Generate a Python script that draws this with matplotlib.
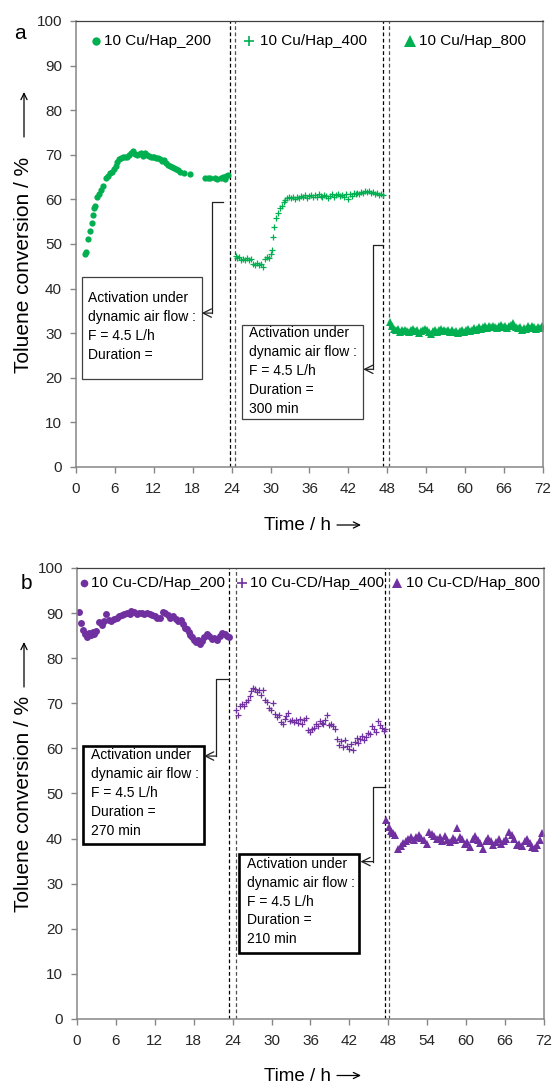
import matplotlib
matplotlib.use("Agg")
import matplotlib.pyplot as plt
from matplotlib.patches import Rectangle, FancyArrowPatch

plt.rcParams["font.family"] = ["Liberation Sans", "DejaVu Sans"]

GREEN = "#00B050"
PURPLE = "#7030A0"
AXIS_GREY = "#868686"
TEXT = "#262626"

FIG_W, FIG_H = 553, 1086

# ---- panel a: 10 Cu/Hap ----
a200_t = [1.4, 1.6, 1.9, 2.1, 2.4, 2.6, 2.8, 3.0, 3.3, 3.6, 3.9, 4.2, 4.6, 4.9, 5.2, 5.5,
          5.8, 6.1, 6.4, 6.7, 7.0, 7.3, 7.6, 7.9, 8.2, 8.5, 8.8, 9.1, 9.4, 9.7, 10.0, 10.3,
          10.6, 10.9, 11.2, 11.5, 11.8, 12.1, 12.4, 12.7, 13.0, 13.3, 13.6, 13.9, 14.2, 14.5,
          14.8, 15.1, 15.4, 15.7, 16.0, 16.6, 17.6, 19.9, 20.3, 20.6, 21.4, 21.8, 22.3, 22.7,
          23.0, 23.2, 23.5]
a200_v = [47.8, 48.3, 51.2, 52.8, 54.8, 56.5, 58.0, 58.6, 60.6, 61.3, 62.0, 63.0, 64.7, 65.3,
          65.8, 66.1, 66.8, 67.5, 68.3, 69.0, 69.3, 69.5, 69.5, 69.6, 69.9, 70.3, 70.9, 70.2,
          69.9, 70.1, 70.4, 69.8, 70.5, 70.0, 69.8, 69.6, 69.4, 69.5, 69.2, 69.3, 69.0, 68.6,
          68.8, 68.1, 67.8, 67.5, 67.2, 67.0, 66.8, 66.5, 66.2, 65.8, 65.6, 64.7, 64.7, 64.8,
          64.8, 64.6, 64.9, 65.0, 64.6, 65.3, 65.5]

a400_t = [24.6, 24.9, 25.2, 25.5, 25.8, 26.1, 26.4, 26.7, 27.0, 27.3, 27.6, 27.9, 28.2, 28.5,
          28.8, 29.1, 29.4, 29.7, 30.0, 30.2, 30.4, 30.6, 30.8, 31.1, 31.4, 31.7, 32.0, 32.3,
          32.6, 32.9, 33.2, 33.5, 33.8, 34.1, 34.4, 34.7, 35.0, 35.3, 35.6, 35.9, 36.2, 36.5,
          36.8, 37.1, 37.4, 37.7, 38.0, 38.3, 38.6, 38.9, 39.2, 39.5, 39.8, 40.1, 40.4, 40.7,
          41.0, 41.3, 41.6, 41.9, 42.2, 42.5, 42.8, 43.1, 43.4, 43.7, 44.0, 44.3, 44.6, 44.9,
          45.2, 45.5, 45.8, 46.1, 46.4, 46.7, 47.0, 47.3]
a400_v = [47.3, 46.9, 47.0, 46.5, 46.7, 46.4, 46.8, 46.3, 46.6, 45.6, 45.3, 45.7, 45.2, 45.5,
          44.9, 46.6, 47.1, 46.8, 47.8, 48.7, 51.6, 53.9, 55.8, 57.0, 58.0, 58.6, 59.3, 59.8,
          60.3, 60.6, 60.2, 60.5, 60.0, 60.6, 60.3, 60.8, 60.5, 60.9, 60.4, 60.7, 61.0, 60.6,
          60.9, 60.5, 61.1, 60.8, 60.6, 61.0, 60.7, 60.3, 60.8, 61.1, 60.6, 60.9, 61.2, 60.8,
          61.0, 60.5, 61.2, 60.0, 61.3, 60.8, 61.4, 61.1, 61.5, 61.2, 61.7, 61.4, 61.9, 61.6,
          61.8, 61.5, 61.7, 61.3, 61.5, 61.0, 61.2, 60.9]

a800_t = [48.4, 48.7, 49.0, 49.3, 49.6, 49.9, 50.2, 50.5, 50.8, 51.1, 51.4, 51.7, 52.0, 52.3,
          52.6, 52.9, 53.2, 53.5, 53.8, 54.1, 54.4, 54.7, 55.0, 55.3, 55.6, 55.9, 56.2, 56.5,
          56.8, 57.1, 57.4, 57.7, 58.0, 58.3, 58.6, 58.9, 59.2, 59.5, 59.8, 60.1, 60.4, 60.7,
          61.0, 61.3, 61.6, 61.9, 62.2, 62.5, 62.8, 63.1, 63.4, 63.7, 64.0, 64.3, 64.6, 64.9,
          65.2, 65.5, 65.8, 66.1, 66.4, 66.7, 67.0, 67.3, 67.6, 67.9, 68.2, 68.5, 68.8, 69.1,
          69.4, 69.7, 70.0, 70.3, 70.6, 70.9, 71.2, 71.5, 71.8]
a800_v = [32.6, 31.5, 31.0, 30.6, 30.9, 30.3, 30.7, 30.4, 30.8, 30.5, 30.2, 30.6, 30.9, 30.4,
          30.7, 30.1, 30.5, 30.8, 31.0, 30.6, 30.3, 29.9, 30.4, 30.7, 30.2, 30.6, 30.9, 30.4,
          30.7, 30.5, 30.8, 30.3, 30.6, 30.2, 30.5, 30.0, 30.4, 30.7, 30.3, 30.6, 30.9, 30.5,
          30.8, 31.1, 30.7, 31.0, 31.4, 31.0, 31.3, 31.6, 31.2, 31.5, 31.3, 31.7, 31.4, 31.1,
          31.5, 31.8, 31.4, 31.6, 31.2, 31.5, 31.9, 32.2, 31.7, 31.4, 31.1, 31.4, 30.8, 31.2,
          31.0, 31.5, 31.2, 31.6, 31.3, 31.0, 31.4, 31.1, 31.5]

# ---- panel b: 10 Cu-CD/Hap ----
b200_t = [0.3, 0.6, 0.9, 1.2, 1.5, 1.8, 2.1, 2.4, 2.7, 3.0, 3.4, 3.8, 4.1, 4.5, 4.9, 5.3,
          5.7, 6.1, 6.5, 6.9, 7.3, 7.7, 8.1, 8.4, 8.8, 9.2, 9.6, 10.0, 10.4, 10.8, 11.2, 11.6,
          12.0, 12.4, 12.8, 13.2, 13.6, 14.0, 14.4, 14.8, 15.2, 15.6, 16.0, 16.3, 16.6, 16.9,
          17.2, 17.5, 17.8, 18.1, 18.4, 18.7, 19.0, 19.3, 19.6, 20.0, 20.4, 20.8, 21.2, 21.6,
          22.0, 22.4, 22.8, 23.2, 23.5]
b200_v = [90.3, 87.8, 86.3, 85.4, 84.7, 85.5, 85.2, 85.8, 85.4, 86.1, 88.0, 87.3, 88.3, 89.7,
          88.5, 88.2, 88.6, 89.0, 89.3, 89.6, 89.8, 90.1, 89.9, 90.5, 90.2, 89.8, 90.1, 90.0,
          89.7, 90.1, 89.9, 89.6, 89.4, 89.0, 88.9, 90.2, 90.0, 89.5, 89.0, 89.3, 88.6, 88.3,
          88.4, 87.6, 86.7, 86.4, 85.9, 85.2, 84.8, 84.1, 83.6, 84.0, 83.2, 83.7, 84.6, 85.3,
          85.0, 84.2, 84.5, 84.1, 85.0, 85.6, 85.3, 85.0, 84.8]

b400_t = [24.5, 24.8, 25.1, 25.4, 25.7, 26.0, 26.3, 26.6, 26.9, 27.2, 27.5, 27.8, 28.1, 28.4,
          28.7, 29.0, 29.3, 29.6, 29.9, 30.2, 30.5, 30.8, 31.1, 31.4, 31.7, 32.0, 32.3, 32.6,
          32.9, 33.2, 33.5, 33.8, 34.1, 34.4, 34.7, 35.0, 35.3, 35.6, 35.9, 36.2, 36.5, 36.8,
          37.1, 37.4, 37.7, 38.0, 38.3, 38.6, 38.9, 39.2, 39.5, 39.8, 40.1, 40.4, 40.7, 41.0,
          41.3, 41.6, 41.9, 42.2, 42.5, 42.8, 43.1, 43.4, 43.7, 44.0, 44.3, 44.6, 44.9, 45.2,
          45.5, 45.8, 46.1, 46.4, 46.7, 47.0, 47.3, 47.5]
b400_v = [68.5, 67.3, 69.3, 69.8, 69.5, 70.3, 70.8, 71.7, 72.8, 73.4, 73.1, 72.6, 72.9, 71.8,
          72.9, 70.8, 70.2, 69.0, 68.6, 70.1, 67.6, 66.9, 67.5, 65.9, 65.4, 66.5, 67.2, 67.8,
          66.0, 66.3, 65.8, 66.2, 65.7, 66.6, 65.5, 66.3, 66.7, 64.1, 63.7, 64.3, 64.5, 65.4,
          65.0, 66.1, 65.7, 65.4, 66.2, 67.3, 65.2, 65.5, 65.0, 64.4, 62.0, 60.8, 61.6, 60.2,
          61.9, 60.6, 59.8, 61.0, 59.6, 61.5, 62.4, 61.2, 62.0, 62.8, 61.8, 62.5, 63.5, 63.2,
          64.9, 64.3, 63.7, 66.0, 65.2, 64.6, 63.8, 64.4]

b800_t = [47.7, 48.1, 48.4, 48.7, 49.1, 49.5, 49.9, 50.3, 50.7, 51.1, 51.5, 51.9, 52.3, 52.7,
          53.1, 53.5, 53.9, 54.3, 54.7, 55.1, 55.5, 55.9, 56.3, 56.7, 57.1, 57.5, 57.9, 58.3,
          58.6, 59.0, 59.4, 59.8, 60.2, 60.6, 61.0, 61.4, 61.8, 62.2, 62.6, 63.0, 63.4, 63.8,
          64.2, 64.6, 65.0, 65.4, 65.8, 66.2, 66.6, 67.0, 67.4, 67.8, 68.2, 68.6, 69.0, 69.4,
          69.8, 70.2, 70.6, 71.0, 71.4, 71.7]
b800_v = [44.1, 42.5, 41.6, 41.2, 40.9, 37.8, 38.4, 39.0, 39.4, 39.9, 40.3, 39.6, 40.4, 40.9,
          40.1, 39.7, 38.9, 41.4, 41.0, 40.5, 39.8, 40.3, 39.5, 40.6, 39.7, 39.2, 40.1, 39.6,
          42.3, 40.4, 39.9, 38.7, 39.3, 38.2, 39.8, 40.5, 39.6, 39.0, 37.6, 39.5, 40.1, 39.4,
          38.6, 39.2, 39.8, 38.9, 39.5, 40.0, 41.5, 40.7, 39.8, 38.5, 38.9, 38.3, 39.4, 40.0,
          39.1, 38.2, 38.0, 38.6, 39.7, 41.2]

a_labels = ["10 Cu/Hap_200", "10 Cu/Hap_400", "10 Cu/Hap_800"]
b_labels = ["10 Cu-CD/Hap_200", "10 Cu-CD/Hap_400", "10 Cu-CD/Hap_800"]

# activation breaks (h) between the calcination stages
a_breaks = [(23.7, 24.5), (47.4, 48.3)]
b_breaks = [(23.5, 24.5), (47.5, 48.1)]

a_notes = ["Activation under\ndynamic air flow :\nF = 4.5 L/h\nDuration =",
           "Activation under\ndynamic air flow :\nF = 4.5 L/h\nDuration =\n300 min"]
b_notes = ["Activation under\ndynamic air flow :\nF = 4.5 L/h\nDuration =\n270 min",
           "Activation under\ndynamic air flow :\nF = 4.5 L/h\nDuration =\n210 min"]

x_ticks = list(range(0, 73, 6))
y_ticks = list(range(0, 101, 10))


def fig_xy(px, py):
    return px / FIG_W, 1 - py / FIG_H


def style_axes(ax):
    ax.set_xlim(0, 72)
    ax.set_ylim(0, 100)
    ax.set_xticks(x_ticks)
    ax.set_yticks(y_ticks)
    for side in ("left", "bottom", "right"):
        ax.spines[side].set_color(AXIS_GREY)
        ax.spines[side].set_linewidth(1.1)
    ax.spines["top"].set_color("#404040")
    ax.spines["top"].set_linewidth(0.9)
    ax.tick_params(axis="both", direction="out", length=4, width=1.0, color=AXIS_GREY,
                   labelsize=11, labelcolor=TEXT)
    ax.tick_params(axis="x", pad=7)
    ax.tick_params(axis="y", pad=6)


def draw_breaks(ax, breaks):
    for left, right in breaks:
        ax.axvline(left, color="black", lw=0.9, ls=(0, (3, 2)), zorder=1)
        ax.axvline(right, color="#505050", lw=0.9, ls=(0, (3, 2)), zorder=1)


def draw_note(ax, box, text_xy, text, arrow_path, box_lw, box_color):
    x0, x1, y0, y1 = box
    ax.add_patch(Rectangle((x0, y0), x1 - x0, y1 - y0, fill=True, facecolor="white",
                           edgecolor=box_color, lw=box_lw, zorder=3))
    ax.text(text_xy[0], text_xy[1], text, ha="left", va="top", fontsize=10,
            color="black", linespacing=1.45, zorder=4)
    xs = [p[0] for p in arrow_path[:-1]]
    ys = [p[1] for p in arrow_path[:-1]]
    ax.plot(xs, ys, color="#202020", lw=0.9, zorder=3)
    ax.annotate("", xy=arrow_path[-1], xytext=arrow_path[-2],
                arrowprops=dict(arrowstyle="->,head_length=0.6,head_width=0.3",
                                color="#202020", lw=0.9, shrinkA=0, shrinkB=0),
                zorder=3)


def draw_legend(ax, items, y, sizes):
    for (mx, tx, marker, label), ms in zip(items, sizes):
        mew = 1.2 if marker == "+" else 0
        ax.plot([mx], [y], marker=marker, ms=ms, color=ax.lines[0].get_color(),
                mew=mew, ls="none", clip_on=False)
        ax.text(tx, y, label, ha="left", va="center", fontsize=11, color="black")


def label_arrow(fig, start_px, end_px):
    fig.add_artist(FancyArrowPatch(fig_xy(*start_px), fig_xy(*end_px),
                                   transform=fig.transFigure,
                                   arrowstyle="->,head_length=0.45,head_width=0.22",
                                   mutation_scale=10, color="black", lw=0.9,
                                   shrinkA=0, shrinkB=0))


fig = plt.figure(figsize=(5.53, 10.86), dpi=100)
ax_a = fig.add_axes([0.1374, 0.5700, 0.8445, 0.4107])
ax_b = fig.add_axes([0.1392, 0.0617, 0.8445, 0.4153])

# panel a
ax_a.plot(a200_t, a200_v, "o", color=GREEN, ms=4.5, mew=0, zorder=2)
ax_a.plot(a400_t, a400_v, "+", color=GREEN, ms=4.6, mew=0.9, zorder=2)
ax_a.plot(a800_t, a800_v, "^", color=GREEN, ms=5.4, mew=0, zorder=2)
draw_breaks(ax_a, a_breaks)
style_axes(ax_a)
draw_note(ax_a, (0.88, 19.38, 19.7, 42.5), (1.85, 39.5), a_notes[0],
          [(22.6, 59.5), (21.0, 59.5), (21.0, 34.5), (19.38, 34.5)], 0.9, "#404040")
draw_note(ax_a, (25.64, 44.29, 10.7, 31.8), (26.7, 31.6), a_notes[1],
          [(47.4, 49.8), (45.74, 49.8), (45.74, 21.9), (44.29, 21.9)], 0.9, "#404040")
draw_legend(ax_a, [(3.03, 4.37, "o", a_labels[0]), (26.7, 28.3, "+", a_labels[1]),
                   (51.5, 52.9, "^", a_labels[2])], 95.4, [6.0, 7.0, 8.0])

# panel b
ax_b.plot(b200_t, b200_v, "o", color=PURPLE, ms=5.0, mew=0, zorder=2)
ax_b.plot(b400_t, b400_v, "+", color=PURPLE, ms=4.8, mew=0.9, zorder=2)
ax_b.plot(b800_t, b800_v, "^", color=PURPLE, ms=5.2, mew=0, zorder=2)
draw_breaks(ax_b, b_breaks)
style_axes(ax_b)
draw_note(ax_b, (0.97, 19.58, 38.7, 60.5), (2.1, 60.0), b_notes[0],
          [(23.5, 75.3), (21.5, 75.3), (21.5, 58.3), (19.58, 58.3)], 1.9, "black")
draw_note(ax_b, (25.0, 43.5, 14.7, 36.6), (26.2, 36.0), b_notes[1],
          [(47.5, 51.5), (45.6, 51.5), (45.6, 34.9), (43.7, 34.9)], 1.9, "black")
draw_legend(ax_b, [(1.08, 2.1, "o", b_labels[0]), (25.5, 26.6, "+", b_labels[1]),
                   (49.4, 50.8, "^", b_labels[2])], 96.6, [5.5, 7.0, 6.5])

# axis titles, each followed by a long arrow
ylab = "Toluene conversion / %"
xlab = "Time / h"
for text_py, arrow_py in [(265, (137, 92)), (803.7, (687, 642))]:
    fig.text(*fig_xy(23.5, text_py), ylab, rotation=90, ha="center", va="center",
             fontsize=15, color="black")
    label_arrow(fig, (24, arrow_py[0]), (24, arrow_py[1]))
for py in (526, 1076.5):
    fig.text(*fig_xy(298, py), xlab, ha="center", va="center", fontsize=13.5,
             color="black")
    label_arrow(fig, (337, py - 1), (361, py - 1))

fig.text(0.036, 0.9696, "a", ha="center", va="center", fontsize=15, color="black")
fig.text(0.047, 0.463, "b", ha="center", va="center", fontsize=15, color="black")

fig.savefig("out.png", dpi=100)
plt.close(fig)
